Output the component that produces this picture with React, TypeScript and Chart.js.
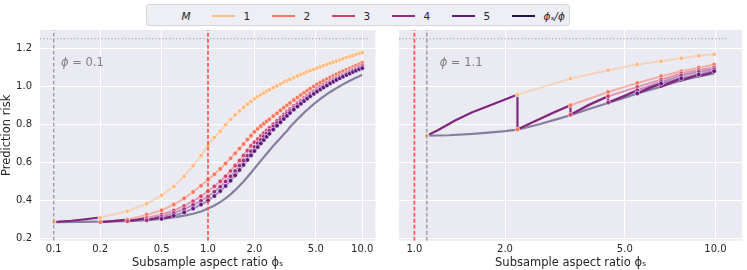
import React, { useEffect, useRef } from "react";
import { Chart, registerables } from "chart.js";

Chart.register(...registerables);
Chart.defaults.font.family = "'DejaVu Sans', sans-serif";

// ---------------- data ----------------
const M_LABELS = ["1", "2", "3", "4", "5"];
const M_COLORS = ["#febb81", "#f8765c", "#d3436e", "#982d80", "#5f187f"];
const FULL_COLOR = "#221150";
const PATH_COLOR = "#80267f";

const LEFT_PHI = 0.1;
const RIGHT_PHI = 1.1;
const INTERP_RATIO = 1.0;
const NULL_RISK = 1.25;
const NULL_RISK_END = 11.1;

const Y_MIN = 0.187;
const Y_MAX = 1.296;
const Y_TICKS = [0.2, 0.4, 0.6, 0.8, 1.0, 1.2];
const Y_TICK_LABELS = ["0.2", "0.4", "0.6", "0.8", "1.0", "1.2"];

const LEFT_X_MIN = 0.0814;
const LEFT_X_MAX = 12.17;
const LEFT_X_TICKS = [0.1, 0.2, 0.5, 1, 2, 5, 10];
const LEFT_X_TICK_LABELS = ["0.1", "0.2", "0.5", "1.0", "2.0", "5.0", "10.0"];

const RIGHT_X_MIN = 0.889;
const RIGHT_X_MAX = 12.29;
const RIGHT_X_TICKS = [1, 2, 5, 10];
const RIGHT_X_TICK_LABELS = ["1.0", "2.0", "5.0", "10.0"];

// left panel (phi = 0.1)
const LEFT_X = [0.1, 0.2, 0.3, 0.4, 0.5, 0.6, 0.7, 0.8, 0.9, 1.0, 1.1, 1.2, 1.3, 1.4, 1.5, 1.6, 1.7, 1.8, 1.9, 2.0,
  2.1, 2.2, 2.3, 2.4, 2.5, 2.65, 2.8, 2.95, 3.1, 3.25, 3.4, 3.6, 3.8, 4.0, 4.2, 4.4, 4.6, 4.85, 5.1, 5.35, 5.6, 5.9,
  6.2, 6.5, 6.8, 7.15, 7.5, 7.9, 8.3, 8.7, 9.1, 9.55, 10.0];
const LEFT_M1 = [0.285, 0.309, 0.342, 0.381, 0.426, 0.472, 0.526, 0.582, 0.635, 0.69, 0.73, 0.763, 0.797, 0.826, 0.85, 0.87, 0.889, 0.905, 0.92, 0.934,
  0.945, 0.955, 0.964, 0.973, 0.981, 0.992, 1.002, 1.012, 1.021, 1.029, 1.036, 1.045, 1.054, 1.062, 1.069, 1.076, 1.082, 1.089, 1.096, 1.102, 1.108, 1.115,
  1.121, 1.127, 1.133, 1.139, 1.145, 1.151, 1.157, 1.162, 1.167, 1.172, 1.177];
const LEFT_M2 = [null, 0.284, 0.298, 0.323, 0.347, 0.377, 0.41, 0.443, 0.476, 0.508, 0.537, 0.565, 0.593, 0.621, 0.647, 0.672, 0.696, 0.719, 0.74, 0.76,
  0.776, 0.79, 0.803, 0.815, 0.826, 0.843, 0.858, 0.873, 0.887, 0.9, 0.912, 0.927, 0.941, 0.954, 0.966, 0.977, 0.987, 0.999, 1.01, 1.019, 1.028, 1.038,
  1.047, 1.055, 1.063, 1.071, 1.079, 1.087, 1.094, 1.101, 1.108, 1.115, 1.123];
const LEFT_M3 = [null, null, 0.29, 0.306, 0.325, 0.346, 0.37, 0.395, 0.421, 0.447, 0.473, 0.499, 0.526, 0.554, 0.582, 0.609, 0.635, 0.661, 0.686, 0.705,
  0.722, 0.738, 0.753, 0.767, 0.781, 0.8, 0.818, 0.835, 0.851, 0.866, 0.879, 0.896, 0.911, 0.925, 0.938, 0.95, 0.961, 0.974, 0.986, 0.997, 1.007, 1.018,
  1.028, 1.037, 1.045, 1.054, 1.062, 1.071, 1.079, 1.087, 1.094, 1.102, 1.11];
const LEFT_M4 = [null, null, null, 0.295, 0.313, 0.332, 0.353, 0.375, 0.397, 0.42, 0.445, 0.471, 0.498, 0.526, 0.554, 0.582, 0.609, 0.634, 0.658, 0.68,
  0.7, 0.718, 0.735, 0.751, 0.766, 0.787, 0.806, 0.824, 0.84, 0.855, 0.869, 0.886, 0.902, 0.916, 0.929, 0.941, 0.953, 0.966, 0.978, 0.989, 0.999, 1.01,
  1.02, 1.03, 1.038, 1.047, 1.056, 1.065, 1.073, 1.081, 1.088, 1.095, 1.102];
const LEFT_M5 = [null, null, null, null, 0.302, 0.318, 0.336, 0.356, 0.377, 0.398, 0.422, 0.448, 0.475, 0.503, 0.531, 0.559, 0.586, 0.612, 0.636, 0.659,
  0.68, 0.699, 0.717, 0.734, 0.75, 0.772, 0.792, 0.811, 0.828, 0.844, 0.859, 0.877, 0.893, 0.908, 0.922, 0.935, 0.947, 0.96, 0.972, 0.983, 0.993, 1.004,
  1.015, 1.024, 1.033, 1.042, 1.05, 1.059, 1.067, 1.075, 1.082, 1.089, 1.095];
const LEFT_FULL = [0.285, 0.287, 0.29, 0.295, 0.302, 0.31, 0.319, 0.329, 0.341, 0.356, 0.372, 0.39, 0.41, 0.431, 0.453, 0.476, 0.499, 0.522, 0.545, 0.567,
  0.588, 0.608, 0.627, 0.645, 0.662, 0.686, 0.708, 0.728, 0.747, 0.764, 0.785, 0.806, 0.826, 0.844, 0.861, 0.876, 0.89, 0.906, 0.92, 0.933, 0.945, 0.958,
  0.97, 0.98, 0.99, 1.0, 1.01, 1.02, 1.029, 1.037, 1.045, 1.053, 1.061];
const LEFT_PATH_X = [0.1, 0.13, 0.16, 0.2, 0.2, 0.25, 0.3, 0.3, 0.35, 0.4, 0.4, 0.45, 0.5, 0.5, 0.55, 0.6];
const LEFT_PATH_Y = [0.285, 0.292, 0.3, 0.309, 0.284, 0.291, 0.298, 0.29, 0.298, 0.306, 0.295, 0.304, 0.313, 0.302, 0.31, 0.318];

// right panel (phi = 1.1)
const RIGHT_X = [1.1, 2.2, 3.3, 4.4, 5.5, 6.6, 7.7, 8.8, 9.9];
const RIGHT_M1 = [0.74, 0.956, 1.04, 1.084, 1.115, 1.132, 1.147, 1.16, 1.168];
const RIGHT_M2 = [null, 0.772, 0.9, 0.97, 1.017, 1.053, 1.079, 1.098, 1.114];
const RIGHT_M3 = [null, null, 0.85, 0.947, 0.996, 1.035, 1.067, 1.086, 1.099];
const RIGHT_M4 = [null, null, null, 0.914, 0.979, 1.023, 1.056, 1.075, 1.089];
const RIGHT_M5 = [null, null, null, null, 0.962, 1.014, 1.042, 1.062, 1.079];
const RIGHT_FULL_X = [1.1, 1.3, 1.56, 1.8, 2.0, 2.2, 2.6, 3.0, 3.3, 3.8, 4.4, 5.0, 5.5, 6.5, 7.7, 8.8, 9.9];
const RIGHT_FULL_Y = [0.74, 0.742, 0.749, 0.757, 0.764, 0.772, 0.8, 0.828, 0.847, 0.88, 0.912, 0.94, 0.962, 0.995, 1.03, 1.052, 1.068];
const RIGHT_PATH_X = [1.1, 1.2, 1.37, 1.55, 1.77, 2.0, 2.2, 2.2, 2.5, 2.9, 3.3, 3.3, 3.8, 4.4, 4.4, 5.0, 5.5, 5.5, 6.0, 6.6, 6.6, 7.7, 7.7, 8.8, 8.8, 9.9];
const RIGHT_PATH_Y = [0.74, 0.77, 0.821, 0.862, 0.897, 0.93, 0.956, 0.772, 0.815, 0.862, 0.9, 0.85, 0.902, 0.947, 0.914, 0.95, 0.979, 0.962, 0.99, 1.014, 0.998, 1.042, 1.03, 1.062, 1.052, 1.075];

// ---------------- helpers ----------------
const rgba = (hex: string, a: number) => {
  const n = parseInt(hex.slice(1), 16);
  return `rgba(${n >> 16},${(n >> 8) & 255},${n & 255},${a})`;
};

function pts(xs: number[], ys: (number | null)[]) {
  const out: { x: number; y: number }[] = [];
  xs.forEach((x, i) => {
    const y = ys[i];
    if (y !== null && y !== undefined) out.push({ x, y });
  });
  return out;
}

function seriesSets(xs: number[], ys: (number | null)[], k: number, hideFirst: boolean) {
  const color = M_COLORS[k];
  const data = pts(xs, ys);
  return [
    {
      data,
      borderColor: rgba(color, 0.5),
      borderWidth: 2,
      pointRadius: 0,
      order: 20 - k,
      segment: hideFirst
        ? { borderColor: (c: any) => (c.p0DataIndex === 0 ? "rgba(0,0,0,0)" : undefined) }
        : undefined,
    },
    {
      data,
      showLine: false,
      pointRadius: 2.3,
      pointBackgroundColor: color,
      pointBorderColor: "rgba(255,255,255,0.9)",
      pointBorderWidth: 0.6,
      order: 10 - k,
    },
  ];
}

function lineSet(data: { x: number; y: number }[], color: string, width: number, dash: number[], order: number) {
  return { data, borderColor: color, borderWidth: width, borderDash: dash, pointRadius: 0, order };
}

const bgPlugin = {
  id: "panelBg",
  beforeDraw(chart: any) {
    const { ctx, chartArea } = chart;
    ctx.save();
    ctx.fillStyle = "#eaeaf2";
    ctx.fillRect(chartArea.left, chartArea.top, chartArea.right - chartArea.left, chartArea.bottom - chartArea.top);
    ctx.restore();
  },
};

const phiPlugin = {
  id: "phiLabel",
  afterDraw(chart: any, _args: any, opts: any) {
    const { ctx, scales } = chart;
    const px = scales.x.getPixelForValue(opts.x);
    const py = scales.y.getPixelForValue(opts.y);
    ctx.save();
    ctx.fillStyle = "#7f7f7f";
    ctx.textBaseline = "middle";
    ctx.textAlign = "left";
    ctx.font = "italic 11.5px 'DejaVu Sans'";
    ctx.fillText("ϕ", px, py);
    const w = ctx.measureText("ϕ").width;
    ctx.font = "11.5px 'DejaVu Sans'";
    ctx.fillText(" = " + opts.label, px + w, py);
    ctx.restore();
  },
};

function makeOptions(side: "left" | "right") {
  const isLeft = side === "left";
  const xTicks = isLeft ? LEFT_X_TICKS : RIGHT_X_TICKS;
  const xLabels = isLeft ? LEFT_X_TICK_LABELS : RIGHT_X_TICK_LABELS;
  return {
    responsive: false,
    animation: false,
    devicePixelRatio: 1,
    events: [],
    layout: { padding: { top: 30, right: isLeft ? 3.5 : 1.5, left: 0, bottom: 0 } },
    plugins: {
      legend: { display: false },
      tooltip: { enabled: false },
      phiLabel: isLeft
        ? { x: 0.1113, y: 1.121, label: String(LEFT_PHI) }
        : { x: 1.213, y: 1.121, label: String(RIGHT_PHI) },
    },
    elements: { line: { tension: 0 } },
    scales: {
      x: {
        type: "logarithmic",
        min: isLeft ? LEFT_X_MIN : RIGHT_X_MIN,
        max: isLeft ? LEFT_X_MAX : RIGHT_X_MAX,
        afterBuildTicks: (s: any) => {
          s.ticks = xTicks.map((v) => ({ value: v }));
        },
        afterFit: (s: any) => {
          s.height = 29.3;
        },
        ticks: {
          callback: (_v: any, i: number) => xLabels[i],
          color: "#262626",
          font: { size: 10 },
          padding: 3,
          autoSkip: false,
          maxRotation: 0,
        },
        grid: { color: "#ffffff", lineWidth: 1, drawTicks: false },
        border: { display: false },
        title: {
          display: true,
          text: "Subsample aspect ratio ϕₛ",
          color: "#262626",
          font: { size: 11.5 },
          padding: { top: 0, bottom: 0 },
        },
      },
      y: {
        type: "linear",
        min: Y_MIN,
        max: Y_MAX,
        afterBuildTicks: (s: any) => {
          s.ticks = Y_TICKS.map((v) => ({ value: v }));
        },
        afterFit: (s: any) => {
          s.width = isLeft ? 40 : 19;
        },
        ticks: {
          display: isLeft,
          callback: (_v: any, i: number) => Y_TICK_LABELS[i],
          color: "#262626",
          font: { size: 10 },
          padding: 8,
        },
        grid: { color: "#ffffff", lineWidth: 1, drawTicks: false },
        border: { display: false },
        title: {
          display: isLeft,
          text: "Prediction risk",
          color: "#262626",
          font: { size: 11.5 },
          padding: { top: 0, bottom: 0 },
        },
      },
    },
  };
}

function leftDatasets() {
  const sets: any[] = [];
  sets.push(lineSet(pts(LEFT_X, LEFT_FULL), rgba(FULL_COLOR, 0.5), 2.2, [], 30));
  const ms = [LEFT_M1, LEFT_M2, LEFT_M3, LEFT_M4, LEFT_M5];
  ms.forEach((ys, k) => sets.push(...seriesSets(LEFT_X, ys, k, k === 0)));
  sets.push(lineSet(pts(LEFT_PATH_X, LEFT_PATH_Y), PATH_COLOR, 2.2, [], 12));
  sets.push(lineSet([{ x: LEFT_X_MIN, y: NULL_RISK }, { x: NULL_RISK_END, y: NULL_RISK }], "#9a9a9a", 1.2, [1.2, 2.2], 2));
  sets.push(lineSet([{ x: LEFT_PHI, y: Y_MIN }, { x: LEFT_PHI, y: Y_MAX }], "#7a7a7a", 1, [4, 2], 1));
  sets.push(lineSet([{ x: INTERP_RATIO, y: Y_MIN }, { x: INTERP_RATIO, y: Y_MAX }], "rgba(255,70,70,0.9)", 1.8, [4, 2], 0));
  return sets;
}

function rightDatasets() {
  const sets: any[] = [];
  sets.push(lineSet(pts(RIGHT_FULL_X, RIGHT_FULL_Y), rgba(FULL_COLOR, 0.5), 2.2, [], 30));
  const ms = [RIGHT_M1, RIGHT_M2, RIGHT_M3, RIGHT_M4, RIGHT_M5];
  ms.forEach((ys, k) => sets.push(...seriesSets(RIGHT_X, ys, k, k === 0)));
  sets.push(lineSet(pts(RIGHT_PATH_X, RIGHT_PATH_Y), PATH_COLOR, 2.2, [], 12));
  sets.push(lineSet([{ x: RIGHT_X_MIN, y: NULL_RISK }, { x: NULL_RISK_END, y: NULL_RISK }], "#9a9a9a", 1.2, [1.2, 2.2], 2));
  sets.push(lineSet([{ x: RIGHT_PHI, y: Y_MIN }, { x: RIGHT_PHI, y: Y_MAX }], "#7a7a7a", 1, [4, 2], 1));
  sets.push(lineSet([{ x: INTERP_RATIO, y: Y_MIN }, { x: INTERP_RATIO, y: Y_MAX }], "rgba(255,70,70,0.9)", 1.8, [4, 2], 0));
  return sets;
}

function Legend() {
  const textStyle: React.CSSProperties = {
    position: "absolute",
    top: 15.7,
    transform: "translateY(-50%)",
    fontFamily: "'DejaVu Sans', sans-serif",
    fontSize: 10.5,
    color: "#262626",
    whiteSpace: "nowrap",
    lineHeight: "12px",
  };
  const lineStyle = (left: number, color: string): React.CSSProperties => ({
    position: "absolute",
    left,
    top: 14.7,
    width: 23,
    height: 2,
    background: color,
  });
  return (
    <>
      <div
        style={{
          position: "absolute",
          left: 146,
          top: 4,
          width: 424,
          height: 22,
          background: "#eeeef5",
          border: "1px solid #d6d6d6",
          borderRadius: 3,
          boxSizing: "border-box",
        }}
      />
      <span style={{ ...textStyle, left: 181.5, fontStyle: "italic" }}>M</span>
      {M_LABELS.map((lab, k) => (
        <React.Fragment key={lab}>
          <div style={lineStyle(212 + 60 * k, M_COLORS[k])} />
          <span style={{ ...textStyle, left: 243.5 + 60 * k }}>{lab}</span>
        </React.Fragment>
      ))}
      <div style={lineStyle(512, FULL_COLOR)} />
      <span style={{ ...textStyle, left: 543.5, fontStyle: "italic" }}>ϕₛ/ϕ</span>
    </>
  );
}

export default function App() {
  const leftRef = useRef<HTMLCanvasElement>(null);
  const rightRef = useRef<HTMLCanvasElement>(null);

  useEffect(() => {
    const left = new Chart(leftRef.current as HTMLCanvasElement, {
      type: "line",
      data: { datasets: leftDatasets() },
      options: makeOptions("left") as any,
      plugins: [bgPlugin, phiPlugin],
    });
    const right = new Chart(rightRef.current as HTMLCanvasElement, {
      type: "line",
      data: { datasets: rightDatasets() },
      options: makeOptions("right") as any,
      plugins: [bgPlugin, phiPlugin],
    });
    return () => {
      left.destroy();
      right.destroy();
    };
  }, []);

  return (
    <div style={{ position: "fixed", left: 0, top: 0, width: 747, height: 270, background: "#ffffff", overflow: "hidden" }}>
      <canvas ref={leftRef} width={380} height={270} style={{ position: "absolute", left: 0, top: 0, width: 380, height: 270 }} />
      <canvas ref={rightRef} width={367} height={270} style={{ position: "absolute", left: 380, top: 0, width: 367, height: 270 }} />
      <Legend />
    </div>
  );
}
